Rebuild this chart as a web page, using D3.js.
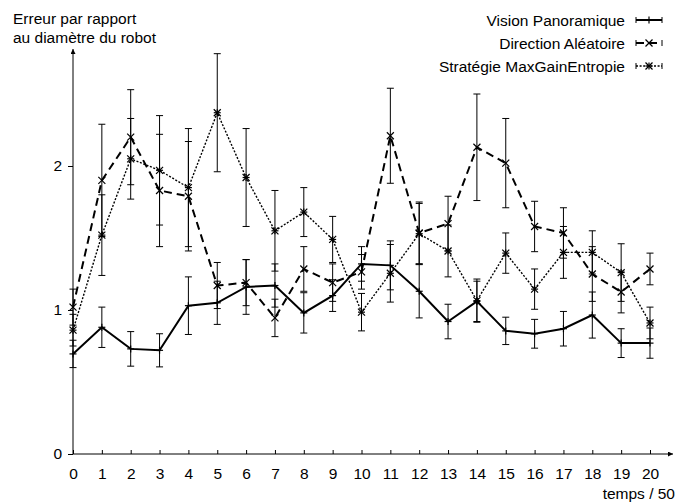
<!DOCTYPE html>
<html>
<head>
<meta charset="utf-8">
<script src="https://cdn.jsdelivr.net/npm/d3@7"></script>
<style>
body { margin: 0; background: #fff; }
text { font-family: "Liberation Sans", Arial, sans-serif; font-size: 15.5px; fill: #000; }
</style>
</head>
<body>
<svg id="chart" width="677" height="504"></svg>
<script>
// time steps (temps / 50)
var steps = [0, 1, 2, 3, 4, 5, 6, 7, 8, 9, 10, 11, 12, 13, 14, 15, 16, 17, 18, 19, 20];

// Vision Panoramique
var vision_mean = [0.695, 0.88, 0.73, 0.72, 1.03, 1.05, 1.16, 1.17, 0.98, 1.10, 1.32, 1.31, 1.13, 0.92, 1.06, 0.855, 0.835, 0.87, 0.965, 0.77, 0.77];
var vision_err  = [0.095, 0.14, 0.12, 0.115, 0.20, 0.15, 0.19, 0.15, 0.14, 0.11, 0.12, 0.17, 0.185, 0.12, 0.14, 0.095, 0.10, 0.12, 0.16, 0.10, 0.105];

// Direction Aléatoire
var random_mean = [1.02, 1.90, 2.20, 1.83, 1.79, 1.17, 1.19, 0.945, 1.285, 1.19, 1.265, 2.21, 1.535, 1.60, 2.13, 2.02, 1.58, 1.535, 1.25, 1.125, 1.285];
var random_err  = [0.125, 0.39, 0.33, 0.39, 0.38, 0.16, 0.16, 0.13, 0.155, 0.13, 0.12, 0.33, 0.215, 0.19, 0.37, 0.31, 0.175, 0.175, 0.19, 0.145, 0.11];

// Stratégie MaxGainEntropie
var entropy_mean = [0.86, 1.52, 2.05, 1.97, 1.85, 2.37, 1.92, 1.55, 1.68, 1.49, 0.985, 1.255, 1.53, 1.41, 1.065, 1.395, 1.145, 1.40, 1.40, 1.26, 0.91];
var entropy_err  = [0.11, 0.28, 0.28, 0.38, 0.41, 0.41, 0.34, 0.28, 0.17, 0.16, 0.13, 0.20, 0.21, 0.18, 0.15, 0.14, 0.14, 0.18, 0.15, 0.20, 0.11];

var y_ticks = [0, 1, 2];
var series_names = ["Vision Panoramique", "Direction Aléatoire", "Stratégie MaxGainEntropie"];

var svg = d3.select("#chart");

var x = d3.scaleLinear().domain([0, 20]).range([73, 650]);
var y = d3.scaleLinear().domain([0, 2]).range([454, 166]);

// series styles: line width, dash, marker type
var series = [
    {name: series_names[0], mean: vision_mean, err: vision_err, width: 2, dash: null, marker: "plus"},
    {name: series_names[1], mean: random_mean, err: random_err, width: 2, dash: "8,5", marker: "cross"},
    {name: series_names[2], mean: entropy_mean, err: entropy_err, width: 1.4, dash: "2,1.6", marker: "star"}
];

// arrow head for the axes
svg.append("defs").append("marker")
    .attr("id", "arrow")
    .attr("viewBox", "0 0 10 10")
    .attr("refX", 10).attr("refY", 5)
    .attr("markerWidth", 7).attr("markerHeight", 5)
    .attr("markerUnits", "userSpaceOnUse")
    .attr("orient", "auto")
    .append("path").attr("d", "M0,0 L10,5 L0,10 z").attr("fill", "#000");

// axes
var xAxis = svg.append("g")
    .attr("transform", `translate(0,${y(0)})`)
    .call(d3.axisBottom(x).tickValues(steps).tickFormat(d3.format("d")).tickSizeInner(-4).tickSizeOuter(0).tickPadding(14));
xAxis.select(".domain").remove();
xAxis.selectAll("text").style("font-size", "15.5px");

var yAxis = svg.append("g")
    .attr("transform", `translate(${x(0)},0)`)
    .call(d3.axisLeft(y).tickValues(y_ticks).tickFormat(d3.format("d")).tickSizeInner(5).tickSizeOuter(0).tickPadding(6));
yAxis.select(".domain").remove();
yAxis.selectAll("text").style("font-size", "15.5px");

svg.append("line")
    .attr("x1", x(0)).attr("y1", y(0)).attr("x2", 673).attr("y2", y(0))
    .attr("stroke", "#000").attr("stroke-width", 1).attr("marker-end", "url(#arrow)");
svg.append("line")
    .attr("x1", x(0)).attr("y1", y(0)).attr("x2", x(0)).attr("y2", 49)
    .attr("stroke", "#000").attr("stroke-width", 1).attr("marker-end", "url(#arrow)");

// axis titles
svg.append("text").attr("x", 13).attr("y", 24).text("Erreur par rapport");
svg.append("text").attr("x", 13).attr("y", 43).text("au diamètre du robot");
svg.append("text").attr("x", 675).attr("y", 499).attr("text-anchor", "end").text("temps / 50");

function drawMarker(g, type, cx, cy, s) {
    if (type == "plus" || type == "star") {
        g.append("line").attr("x1", cx - s).attr("y1", cy).attr("x2", cx + s).attr("y2", cy);
        g.append("line").attr("x1", cx).attr("y1", cy - s).attr("x2", cx).attr("y2", cy + s);
    }
    if (type == "cross" || type == "star") {
        g.append("line").attr("x1", cx - s).attr("y1", cy - s).attr("x2", cx + s).attr("y2", cy + s);
        g.append("line").attr("x1", cx - s).attr("y1", cy + s).attr("x2", cx + s).attr("y2", cy - s);
    }
}

var line = d3.line().x(d => x(d.t)).y(d => y(d.v));

series.forEach(function(s) {
    var pts = steps.map((t, i) => ({t: t, v: s.mean[i], e: s.err[i]}));
    var g = svg.append("g").attr("stroke", "#000").attr("fill", "none");

    // error bars
    var bars = g.append("g").attr("stroke-width", 1);
    pts.forEach(function(d) {
        var cx = x(d.t);
        bars.append("line").attr("x1", cx).attr("x2", cx).attr("y1", y(d.v + d.e)).attr("y2", y(d.v - d.e));
        bars.append("line").attr("x1", cx - 3.5).attr("x2", cx + 3.5).attr("y1", y(d.v + d.e)).attr("y2", y(d.v + d.e));
        bars.append("line").attr("x1", cx - 3.5).attr("x2", cx + 3.5).attr("y1", y(d.v - d.e)).attr("y2", y(d.v - d.e));
    });

    g.append("path").datum(pts)
        .attr("d", line)
        .attr("stroke-width", s.width)
        .attr("stroke-dasharray", s.dash)
        .attr("stroke-linejoin", "miter");

    var marks = g.append("g").attr("stroke-width", 1.2);
    pts.forEach(function(d) { drawMarker(marks, s.marker, x(d.t), y(d.v), 3.5); });
});

// legend
var legend = svg.append("g");
series.forEach(function(s, i) {
    var cy = 20 + i * 23;
    legend.append("text").attr("x", 625).attr("y", cy + 5.5).attr("text-anchor", "end").text(s.name);
    var lg = legend.append("g").attr("stroke", "#000").attr("fill", "none");
    lg.append("line").attr("x1", 636).attr("x2", 662).attr("y1", cy).attr("y2", cy)
        .attr("stroke-width", s.width).attr("stroke-dasharray", s.dash);
    lg.append("line").attr("x1", 636).attr("x2", 636).attr("y1", cy - 3).attr("y2", cy + 3).attr("stroke-width", 1);
    lg.append("line").attr("x1", 662).attr("x2", 662).attr("y1", cy - 3).attr("y2", cy + 3).attr("stroke-width", 1);
    var mg = lg.append("g").attr("stroke-width", 1.2);
    drawMarker(mg, s.marker, 649, cy, 3.5);
});
</script>
</body>
</html>
